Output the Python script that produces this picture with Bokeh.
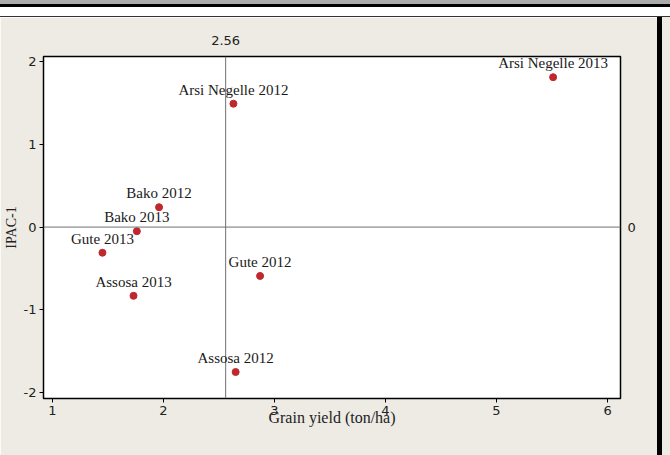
from bokeh.plotting import figure
from bokeh.models import (ColumnDataSource, LabelSet, Span, LinearAxis, FixedTicker,
                          Range1d, Div, CustomJSTickFormatter)
from bokeh.layouts import column, row
from bokeh.embed import file_html
from bokeh.resources import INLINE

# ---- data ----
names = ["Arsi Negelle 2013", "Arsi Negelle 2012", "Bako 2012", "Bako 2013",
         "Gute 2013", "Assosa 2013", "Gute 2012", "Assosa 2012"]
grain_yield = [5.51, 2.63, 1.96, 1.76, 1.45, 1.73, 2.87, 2.65]
ipac1 = [1.81, 1.49, 0.24, -0.05, -0.31, -0.83, -0.59, -1.75]
x_ticks = [1, 2, 3, 4, 5, 6]
y_ticks = [-2, -1, 0, 1, 2]
x_ref = 2.56
y_ref = 0

BG = "#EEEBE4"
SANS = "DejaVu Sans"
SERIF = "Liberation Serif"

plain = CustomJSTickFormatter(code="return tick.toString();")

p = figure(width=657, height=438, output_backend="svg", toolbar_location=None,
           x_range=Range1d(0.919, 6.117), y_range=Range1d(-2.07, 2.06),
           min_border_left=43, min_border_right=37, min_border_top=39,
           min_border_bottom=57, background_fill_color="white",
           border_fill_color=BG, outline_line_color="black", outline_line_width=1.5)
p.grid.visible = False
p.xaxis.ticker = FixedTicker(ticks=x_ticks)
p.yaxis.ticker = FixedTicker(ticks=y_ticks)
for ax in (p.xaxis[0], p.yaxis[0]):
    ax.formatter = plain
    ax.axis_line_color = "black"
    ax.major_tick_in = 0
    ax.major_tick_out = 4
    ax.minor_tick_line_color = None
    ax.major_label_text_font = SANS
    ax.major_label_text_font_size = "13px"
    ax.major_label_text_color = "#222222"
    ax.axis_label_text_font = SERIF
    ax.axis_label_text_font_style = "normal"
    ax.axis_label_text_color = "#222222"
p.xaxis.axis_label = "Grain yield (ton/ha)"
p.xaxis.axis_label_text_font_size = "16px"
p.xaxis.axis_label_standoff = -9
p.xaxis.major_label_standoff = 3
p.yaxis.axis_label = "IPAC-1"
p.yaxis.axis_label_text_font_size = "14px"
p.yaxis.axis_label_standoff = 2
p.yaxis.major_label_standoff = 3

# reference lines
p.add_layout(Span(location=x_ref, dimension="height", line_color="#707070", line_width=1))
p.add_layout(Span(location=y_ref, dimension="width", line_color="#707070", line_width=1))

# reference values as extra axes
top_ax = LinearAxis(ticker=FixedTicker(ticks=[x_ref]),
                    formatter=CustomJSTickFormatter(code="return tick.toFixed(2);"),
                    axis_line_color=None, major_tick_line_color=None,
                    minor_tick_line_color=None, major_label_standoff=6,
                    major_label_text_font=SANS, major_label_text_font_size="13px",
                    major_label_text_color="#222222")
p.add_layout(top_ax, "above")
right_ax = LinearAxis(ticker=FixedTicker(ticks=[y_ref]), formatter=plain,
                      axis_line_color=None, major_tick_line_color=None,
                      minor_tick_line_color=None, major_label_standoff=1,
                      major_label_text_font=SANS, major_label_text_font_size="13px",
                      major_label_text_color="#222222")
p.add_layout(right_ax, "right")

src = ColumnDataSource(dict(x=grain_yield, y=ipac1, name=names))
p.scatter("x", "y", source=src, size=7, fill_color="#C0282D", line_color="#C0282D")
p.add_layout(LabelSet(x="x", y="y", text="name", source=src, text_align="center",
                      text_baseline="middle", y_offset=14, text_font=SERIF,
                      text_font_size="15px", text_color="#1a1a1a"))

top_bar = Div(text="", width=670, height=17, margin=0,
              styles={"background": "linear-gradient(to bottom, #ababab 0px, #ababab 4px, #000 4px, #000 7px, #ffffff 7px, #ffffff 16px, #333 16px, #333 17px)"})
right_bar = Div(text="", width=13, height=438, margin=0,
                styles={"background": "linear-gradient(to right, #000 0px, #000 5px, " + BG + " 5px, " + BG + " 13px)"})
layout = column(top_bar, row(p, right_bar, spacing=0), spacing=0)

open("out.html", "w").write(file_html(layout, INLINE))
